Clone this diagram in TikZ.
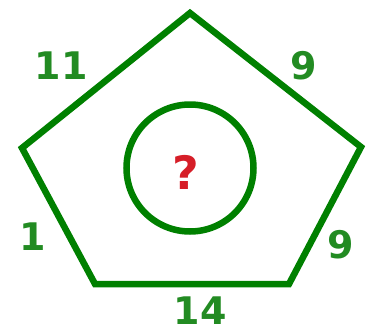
\documentclass[tikz,border=0pt]{standalone}
\usepackage{fontspec}
\setmainfont{DejaVu Sans}
\definecolor{pgreen}{RGB}{0,128,0}
\definecolor{lgreen}{RGB}{34,139,34}
\definecolor{qred}{RGB}{214,30,40}
\begin{document}
\begin{tikzpicture}[x=1pt,y=-1pt,
  edge/.style={draw=pgreen,line width=6.5pt,line join=miter},
  num/.style={text=lgreen,font=\bfseries\fontsize{38}{38}\selectfont,inner sep=0pt},
  qmark/.style={text=qred,font=\bfseries\fontsize{46}{46}\selectfont,inner sep=0pt}]
\useasboundingbox (0,0) rectangle (368,333);
\coordinate (T) at (190,13);
\coordinate (R) at (361,147);
\coordinate (BR) at (289,284);
\coordinate (BL) at (95,284);
\coordinate (L) at (22,148);
\draw[edge] (T) -- (R) -- (BR) -- (BL) -- (L) -- cycle;
\node[circle,draw=pgreen,line width=6.5pt,minimum size=127pt,inner sep=0pt] (c) at (190,168) {};
\node[qmark] (q) at (186,172) {?};
\node[num] (a) at (61,66) {11};
\node[num] (b) at (304,66) {9};
\node[num] (d) at (33,237) {1};
\node[num] (e) at (341,245) {9};
\node[num] (f) at (200,311) {14};
\end{tikzpicture}
\end{document}
